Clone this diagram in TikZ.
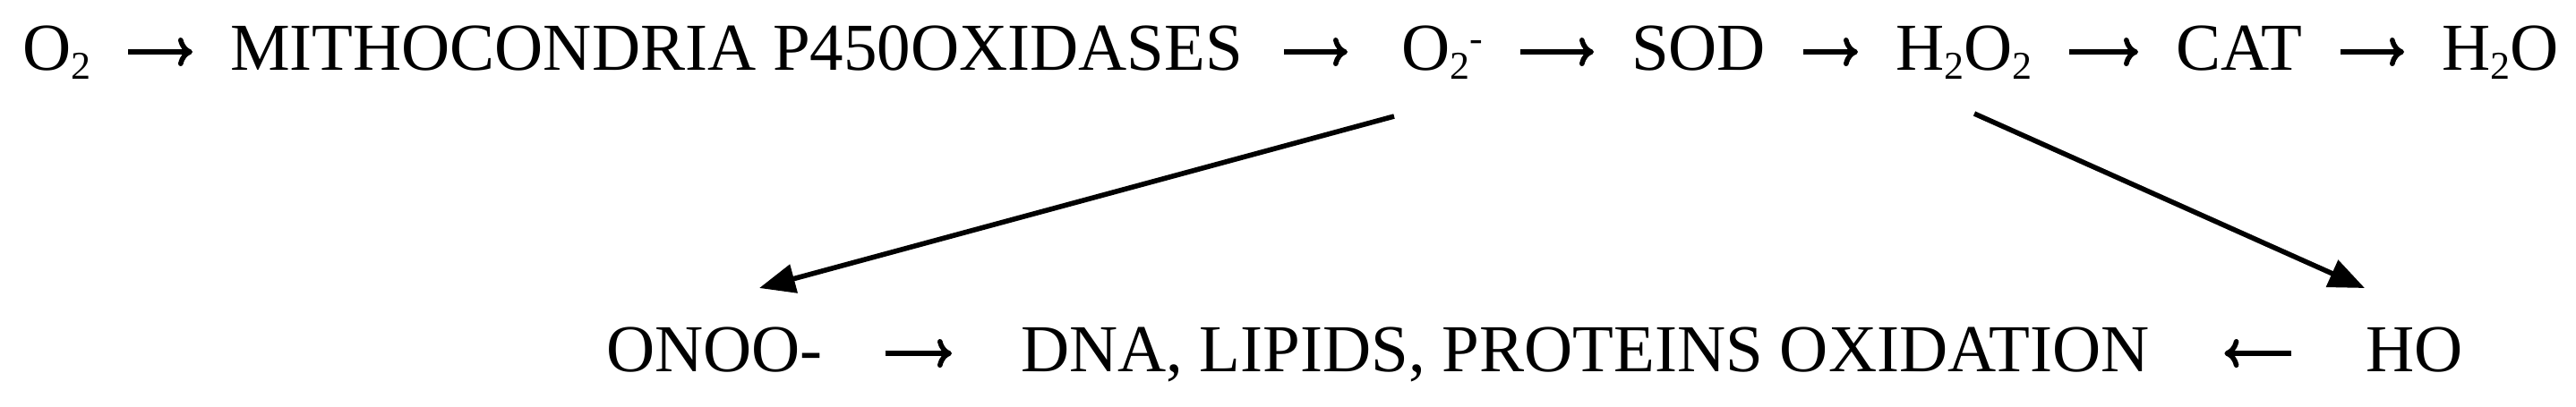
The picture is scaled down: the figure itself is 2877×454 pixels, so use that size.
\documentclass[tikz,border=0pt]{standalone}
\usepackage{fontspec}
\setmainfont{Liberation Serif}
\usetikzlibrary{arrows.meta,calc}
\newcommand\sbs[1]{\raisebox{-2.5pt}{\fontsize{11pt}{11pt}\selectfont #1}}
\newcommand\sps[1]{\raisebox{5.2pt}{\fontsize{11pt}{11pt}\selectfont #1}}
\begin{document}
\begin{tikzpicture}[x=0.25pt,y=-0.25pt,
  txt/.style={inner sep=0pt, outer sep=0pt, anchor=base west,
    font=\fontsize{18.75pt}{22pt}\selectfont, text height=10pt, text depth=0pt},
  rx/.style={line width=1.4pt, -{To[length=4pt,width=8pt]}, shorten <=10.5pt, shorten >=10.5pt},
  rxb/.style={line width=1.4pt, -{To[length=4pt,width=8pt]}},
  diag/.style={line width=1.4pt, -{Triangle[length=10pt,width=8pt]}}]
\fill[white] (0,0) rectangle (2877,454);
\useasboundingbox (0,0) rectangle (2877,454);
% top row
\node[txt] (o2)   at (25,78)   {O\sbs{2}};
\node[txt] (mito) at (257,78)  {MITHOCONDRIA P450OXIDASES};
\node[txt] (o2m)  at (1565,78) {O\sbs{2}\sps{-}};
\node[txt] (sod)  at (1822,78) {SOD};
\node[txt] (h2o2) at (2117,78) {H\sbs{2}O\sbs{2}};
\node[txt] (cat)  at (2430,78) {CAT};
\node[txt] (h2o)  at (2727,78) {H\sbs{2}O};
% bottom row
\node[txt] (onoo) at (677,415)  {ONOO-};
\node[txt] (dna)  at (1140,415) {DNA, LIPIDS, PROTEINS OXIDATION};
\node[txt] (ho)   at (2642,415) {HO};
% top arrows
\draw[rx] (o2.east) -- (mito.west);
\draw[rx, shorten <=11.5pt, shorten >=15pt] (mito.east) -- (o2m.west);
\draw[rx] (o2m.east) -- (sod.west);
\draw[rx] (sod.east) -- (h2o2.west);
\draw[rx] (h2o2.east) -- (cat.west);
\draw[rx] (cat.east) -- (h2o.west);
% bottom arrows
\draw[rxb, shorten <=17.5pt, shorten >=19.25pt] (onoo.east) -- (dna.west);
\draw[rxb, shorten <=20.75pt, shorten >=21pt] (ho.west) -- (dna.east);
% diagonal arrows
\draw[diag] ($(o2m.south west)+(-8,52)$) -- ($(onoo.north west)+(171,-53)$);
\draw[diag] ($(h2o2.south west)+(88,49)$) -- ($(ho.north west)+(-1,-53)$);
\end{tikzpicture}
\end{document}
